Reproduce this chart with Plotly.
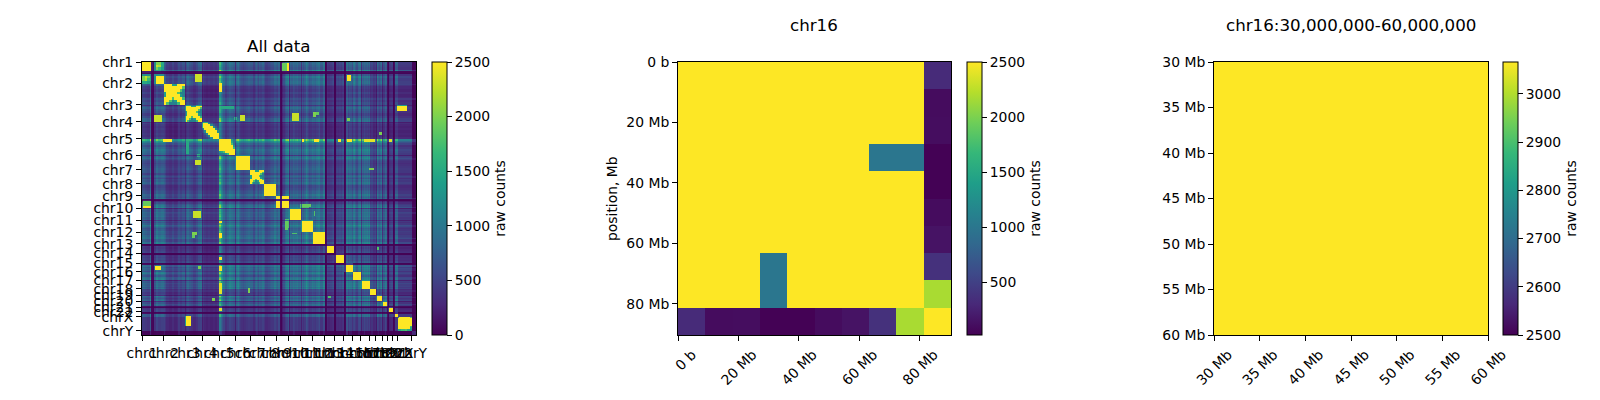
import numpy as np
import plotly.graph_objects as go

CHROMS = ["chr1","chr2","chr3","chr4","chr5","chr6","chr7","chr8","chr9","chr10","chr11","chr12",
          "chr13","chr14","chr15","chr16","chr17","chr18","chr19","chr20","chr21","chr22","chrX","chrY"]
# chromosome starts, Mb, end of genome last
CHROM_STARTS = [0,245,487,680,872,1057,1223,1382,1518,1657,1793,1929,2061,2171,2280,2378,2473,2571,2643,2714,2778,2831,2888,3047]
GENOME_END = 3095

# inter-chromosomal level read per chromosome pair (upper triangle, first entry of each row is the next chromosome)
UPPER = [
 [560,640,450,760,620,600,560,680,700,680,700,520,500,600,700,620,520,600,600,460,600,500,70],
 [540,320,680,520,480,470,560,540,560,600,440,430,500,620,480,440,450,480,380,470,430,60],
 [400,820,640,540,520,620,700,620,640,480,480,560,620,600,480,520,560,420,520,480,70],
 [560,420,380,380,420,420,420,430,340,340,380,420,400,340,360,380,300,360,360,50],
 [780,680,680,780,760,780,780,580,560,740,780,800,580,740,700,500,680,540,80],
 [620,600,660,660,680,700,520,500,640,640,700,520,600,600,440,560,480,70],
 [600,620,600,640,640,500,480,580,600,640,500,560,560,420,520,460,60],
 [600,600,620,640,500,480,560,580,620,480,540,540,420,520,440,60],
 [680,680,680,520,500,620,650,660,520,600,600,440,560,480,70],
 [720,720,530,510,640,680,700,530,640,640,460,600,480,70],
 [760,560,540,660,700,720,560,640,640,480,600,480,70],
 [560,540,680,700,720,560,640,640,480,620,480,70],
 [460,520,560,560,480,500,500,400,480,420,50],
 [520,540,560,460,500,500,380,460,400,50],
 [640,680,520,620,600,460,600,460,60],
 [700,560,640,640,480,620,480,60],
 [580,680,680,500,640,480,60],
 [520,520,400,480,420,50],
 [700,500,680,460,60],
 [480,640,460,60],
 [460,360,50],
 [440,60],
 [60],
]

# relative band strength along each chromosome, eight readings per chromosome
BAND_STRENGTH = [
 [1.1,1.0,0.9,1.3,0.9,1.3,1.1,1.2],
 [1.1,0.8,0.7,0.9,0.7,0.8,0.9,1.1],
 [1.0,1.2,1.0,0.9,0.7,0.9,1.2,1.3],
 [1.1,0.9,0.8,0.9,0.8,0.9,0.8,1.0],
 [1.7,1.2,0.9,0.8,1.0,1.2,1.1,1.0],
 [1.2,1.3,1.0,0.9,0.8,0.9,1.0,1.1],
 [1.1,1.1,0.8,1.1,0.9,1.2,1.1,1.3],
 [1.1,0.8,0.8,0.9,1.0,1.1,1.1,1.4],
 [1.1,1.0,0.9,0.5,0.8,1.1,1.3,1.3],
 [1.1,1.0,1.0,0.9,1.1,1.2,1.0,1.1],
 [1.1,0.9,1.1,1.3,1.1,0.9,1.0,1.2],
 [1.1,1.0,1.2,1.3,1.1,1.0,1.0,1.2],
 [0.3,0.8,0.8,0.7,0.8,0.8,0.9,1.0],
 [0.3,0.9,1.0,0.9,1.0,0.9,1.1,1.2],
 [0.3,0.7,1.0,1.1,1.2,1.1,1.1,1.0],
 [1.3,1.4,1.1,0.9,0.9,1.1,1.2,1.4],
 [1.1,1.2,1.1,1.1,1.2,1.3,1.1,1.3],
 [0.9,0.9,0.8,0.8,0.8,0.8,0.8,0.9],
 [1.3,1.4,1.2,1.0,1.0,1.2,1.4,1.3],
 [1.1,1.0,1.0,1.0,1.1,1.2,1.2,1.1],
 [0.3,0.4,0.8,0.8,0.9,1.0,1.0,1.0],
 [0.2,0.3,1.0,1.1,1.2,1.2,1.2,1.2],
 [0.8,0.8,0.8,0.8,0.8,0.8,0.8,0.8],
 [0.5,0.5,0.5,0.5,0.5,0.5,0.5,0.5],
]

# intra-chromosomal blocks read at 8x8
FULL = [[2500]*8]*8
CROSS = [
 [2500,2500,2500,1400,1400,2500,2500,2500],
 [2500,2500,2500,2500,2500,2500,2500,1800],
 [2500,2500,2500,2500,2500,2500,1800,1100],
 [1400,2500,2500,2500,2500,1800,1100,1100],
 [1400,2500,2500,2500,2500,2500,1400,1100],
 [2500,2500,2500,1800,2500,2500,2500,1700],
 [2500,2500,1800,1100,1400,2500,2500,2500],
 [2500,1800,1100,1100,1100,1700,2500,2500],
]
BAND = [
 [2500,2500,2500,1200, 700, 500, 450, 450],
 [2500,2500,2500,2500,1200, 700, 500, 450],
 [2500,2500,2500,2500,2500,1200, 700, 500],
 [1200,2500,2500,2500,2500,2500,1200, 700],
 [ 700,1200,2500,2500,2500,2500,2500,1200],
 [ 500, 700,1200,2500,2500,2500,2500,2500],
 [ 450, 500, 700,1200,2500,2500,2500,2500],
 [ 450, 450, 500, 700,1200,2500,2500,2500],
]
WEDGE = [
 [2500,2500,2500,2500,2500,2500,1400,1000],
 [2500,2500,2500,2500,2500,2500,1500,1000],
 [2500,2500,2500,2500,2500,2500,1800,1000],
 [2500,2500,2500,2500,2500,2500,2500,1300],
 [2500,2500,2500,2500,2500,2500,2500,1700],
 [2500,2500,2500,2500,2500,2500,2500,2500],
 [1400,1500,1800,2500,2500,2500,2500,2500],
 [1000,1000,1000,1300,1700,2500,2500,2500],
]
CHR1 = [
 [2500,2500,2500,2500,1200,2000,2000,1500],
 [2500,2500,2500,2500,1200,2300,2200,1500],
 [2500,2500,2500,2500,1200,2000,1700,1400],
 [2500,2500,2500,2500,1200,1500,1500,1200],
 [1200,1200,1200,1200,1200,1200,1200,1200],
 [2000,2300,2000,1500,1200,2500,2500,2500],
 [2000,2200,1700,1500,1200,2500,2500,2500],
 [1500,1500,1400,1200,1200,2500,2500,2500],
]
CHRX = [
 [1300,2500,2500,2500,2500,2500,2500,1800],
 [2500,2500,2500,2500,2500,2500,2500,2500],
 [2500,2500,2500,2500,2500,2500,2500,2500],
 [2500,2500,2500,2500,2500,2500,2500,2500],
 [2500,2500,2500,2500,2500,2500,2500,2500],
 [2500,2500,2500,2500,2500,2500,2500,1700],
 [2500,2500,2500,2500,2500,2500,2500,1500],
 [1500,1500,1700,1700,1800,1500,1500,1300],
]
CHRY = [[300]*8]*8
DIAG_BLOCKS = [CHR1,CROSS,CROSS,BAND,WEDGE,FULL,CROSS,FULL,FULL,FULL,FULL,FULL,
               FULL,FULL,FULL,FULL,FULL,FULL,FULL,FULL,FULL,FULL,CHRX,CHRY]

# strong inter-chromosomal contacts: x0, x1, y0, y1 (Mb), counts
HOTSPOTS = [
 (1585,1655,8,102,2500),
 (8,110,1570,1635,1900),
 (872,910,235,340,2500),
 (600,680,135,225,2300),
 (490,560,868,900,1600),(498,528,900,1040,1500),(620,660,1038,1075,1600),
 (608,672,1118,1145,2500),
 (1113,1166,600,665,2300),
 (578,672,1692,1768,2300),
 (487,552,2885,2995,2500),
 (152,220,2310,2362,2500),
 (2672,2710,790,827,2000),
 (2100,2130,2650,2670,1800),
 (640,672,2314,2352,2000),
 (1960,1990,565,600,1900),
 (2560,2616,1204,1223,2000),
 (1691,1748,1938,1955,1800),
 (1615,1653,1785,1880,1800),
 (1805,1900,1615,1640,1900),
 (562,619,1930,1960,2000),
 (1805,1830,872,905,2500),(1937,1993,872,905,2500),(2208,2246,872,905,2500),
 (2314,2370,872,905,2500),(2503,2635,872,905,2400),(2767,2824,872,905,2400),
]
# brighter chromosome bands: from, to (Mb), added counts
BRIGHT_BANDS = [
 (872,905,300),(905,940,120),(90,110,200),(245,262,120),(410,430,150),
 (1090,1110,100),(1290,1320,120),(1545,1565,160),(1640,1650,140),
 (1700,1720,140),(1850,1870,120),(1990,2010,160),(2040,2060,110),
 (2300,2320,260),(2340,2370,110),(2440,2460,110),(2500,2520,120),
 (2590,2610,110),(2660,2680,100),(2740,2760,140),
]
# poorly mappable bands: from, to (Mb), count multiplier
DARK_BANDS = [
 (106,132,0.08),(487,494,0.55),(680,686,0.6),(872,878,0.25),(1057,1064,0.45),(1223,1230,0.45),
 (1556,1578,0.1),(1657,1664,0.45),(1793,1800,0.5),(2061,2084,0.12),(2171,2190,0.12),
 (2280,2296,0.18),(2473,2480,0.5),(2643,2650,0.35),(2714,2720,0.45),(2770,2790,0.2),
 (2835,2860,0.15),(2888,2895,0.45),
]

# chr16 panel, 9 Mb bins
CHR16_BIN_MB = 9.03
CHR16 = [
 [3000,3000,3000,3000,3000,3000,3000,3000,3000,320],
 [3000,3000,3000,3000,3000,3000,3000,3000,3000,100],
 [3000,3000,3000,3000,3000,3000,3000,3000,3000,110],
 [3000,3000,3000,3000,3000,3000,3000,1000,1000,30],
 [3000,3000,3000,3000,3000,3000,3000,3000,3000,30],
 [3000,3000,3000,3000,3000,3000,3000,3000,3000,100],
 [3000,3000,3000,3000,3000,3000,3000,3000,3000,150],
 [3000,3000,3000,1000,3000,3000,3000,3000,3000,370],
 [3000,3000,3000,1000,3000,3000,3000,3000,3000,2180],
 [320,100,110,30,30,100,150,370,2180,3000],
]
CHR16_TICKS = [0,20,40,60,80]
CHR16_LABELS = ["0 b","20 Mb","40 Mb","60 Mb","80 Mb"]

# chr16:30-60 Mb panel
REGION_CENTRES = [35,45,55]
REGION = [[3066,3066,3066],[3066,3066,3066],[3066,3066,3066]]
REGION_TICKS = [30,35,40,45,50,55,60]
REGION_LABELS = ["30 Mb","35 Mb","40 Mb","45 Mb","50 Mb","55 Mb","60 Mb"]

# ---- assemble genome-wide matrix
N = 273
bin_mb = GENOME_END / N
centres = (np.arange(N) + 0.5) * bin_mb
starts = np.array(CHROM_STARTS + [GENOME_END], float)
ci = np.searchsorted(starts, centres, side="right") - 1
base = np.zeros((24, 24))
for a, row in enumerate(UPPER):
    for k, v in enumerate(row):
        base[a, a + k + 1] = v
        base[a + k + 1, a] = v
loc_all = ((centres - starts[ci]) / (starts[ci + 1] - starts[ci]) * 8).astype(int).clip(0, 7)
strength = np.array(BAND_STRENGTH)[ci, loc_all]
Z = base[np.ix_(ci, ci)] * np.outer(strength, strength)
for a, b, add in BRIGHT_BANDS:
    m = (centres >= a) & (centres < b)
    Z[m, :] += add
    Z[:, m] += add
for c, block in enumerate(DIAG_BLOCKS):
    idx = np.where(ci == c)[0]
    block = np.array(block, float)
    loc = loc_all[idx]
    Z[np.ix_(idx, idx)] = block[np.ix_(loc, loc)]
for x0, x1, y0, y1, v in HOTSPOTS:
    mx = (centres >= x0) & (centres < x1)
    my = (centres >= y0) & (centres < y1)
    Z[np.ix_(my, mx)] = v
    Z[np.ix_(mx, my)] = v
for a, b, f in DARK_BANDS:
    m = (centres >= a) & (centres < b)
    Z[m, :] *= f
    Z[:, m] *= f

# ---- figure
W, H = 1600, 400
TOP, BOTTOM = 62, 335
dy = [1 - BOTTOM / H, 1 - TOP / H]
FONT = "DejaVu Sans"
FS = 13.9
panels = [(142, 416, 432), (678, 951, 967), (1214, 1488, 1503)]

def cbar(px, vals, title="raw counts"):
    return dict(x=px / W, xanchor="left", xpad=0, ypad=0, thickness=15, thicknessmode="pixels",
                len=(BOTTOM - TOP) / H, lenmode="fraction", y=sum(dy) / 2, yanchor="middle",
                outlinecolor="black", outlinewidth=1, ticks="outside", ticklen=5, tickwidth=1,
                tickcolor="black", tickmode="array", tickvals=vals, ticktext=[str(v) for v in vals],
                tickfont=dict(family=FONT, size=FS, color="black"),
                title=dict(text=title, side="right", font=dict(family=FONT, size=FS, color="black")))

fig = go.Figure()
fig.add_trace(go.Heatmap(z=Z, x=centres, y=centres, colorscale="Viridis", zmin=0, zmax=2500,
                         colorbar=cbar(panels[0][2], [0,500,1000,1500,2000,2500]),
                         xaxis="x", yaxis="y"))
c16 = (np.arange(10) + 0.5) * CHR16_BIN_MB
fig.add_trace(go.Heatmap(z=CHR16, x=c16, y=c16, colorscale="Viridis", zmin=24, zmax=2500,
                         colorbar=cbar(panels[1][2], [500,1000,1500,2000,2500]),
                         xaxis="x2", yaxis="y2"))
fig.add_trace(go.Heatmap(z=REGION, x=REGION_CENTRES, y=REGION_CENTRES, colorscale="Viridis", zmin=2500, zmax=3066,
                         colorbar=cbar(panels[2][2], [2500,2600,2700,2800,2900,3000]),
                         xaxis="x3", yaxis="y3"))

common = dict(showgrid=False, zeroline=False, showline=True, linecolor="black", linewidth=1, mirror=True,
              ticks="outside", ticklen=5, tickwidth=1, tickcolor="black", tickmode="array",
              tickfont=dict(family=FONT, size=FS, color="black"), automargin=False)
layout = dict(
    xaxis=dict(domain=[panels[0][0]/W, panels[0][1]/W], range=[0, GENOME_END], anchor="y",
               tickvals=CHROM_STARTS, ticktext=CHROMS, tickangle=0, **common),
    yaxis=dict(domain=dy, range=[GENOME_END, 0], anchor="x", tickvals=CHROM_STARTS, ticktext=CHROMS, **common),
    xaxis2=dict(domain=[panels[1][0]/W, panels[1][1]/W], range=[0, 90.3], anchor="y2",
                tickvals=CHR16_TICKS, ticktext=CHR16_LABELS, tickangle=-45, ticklabelshift=14, **common),
    yaxis2=dict(domain=dy, range=[90.3, 0], anchor="x2", tickvals=CHR16_TICKS, ticktext=CHR16_LABELS, **common),
    xaxis3=dict(domain=[panels[2][0]/W, panels[2][1]/W], range=[30, 60], anchor="y3",
                tickvals=REGION_TICKS, ticktext=REGION_LABELS, tickangle=-45, ticklabelshift=14, **common),
    yaxis3=dict(domain=dy, range=[60, 30], anchor="x3", tickvals=REGION_TICKS, ticktext=REGION_LABELS, **common),
)
fig.update_layout(width=W, height=H, margin=dict(l=0, r=0, t=0, b=0), paper_bgcolor="white", plot_bgcolor="white",
                  font=dict(family=FONT, size=FS, color="black"), **layout)

def label(text, x, y, size=FS * 1.2, angle=0):
    fig.add_annotation(text=text, xref="paper", yref="paper", x=x / W, y=1 - y / H, showarrow=False,
                       xanchor="center", yanchor="middle", textangle=angle,
                       font=dict(family=FONT, size=size, color="black"))

label("All data", 279, 47)
label("chr16", 814, 26)
label("chr16:30,000,000-60,000,000", 1351, 26)
label("position, Mb", 612, 199, size=FS, angle=-90)

fig.write_html("out.html", config={"displayModeBar": False}, post_script="document.body.style.margin='0';")
